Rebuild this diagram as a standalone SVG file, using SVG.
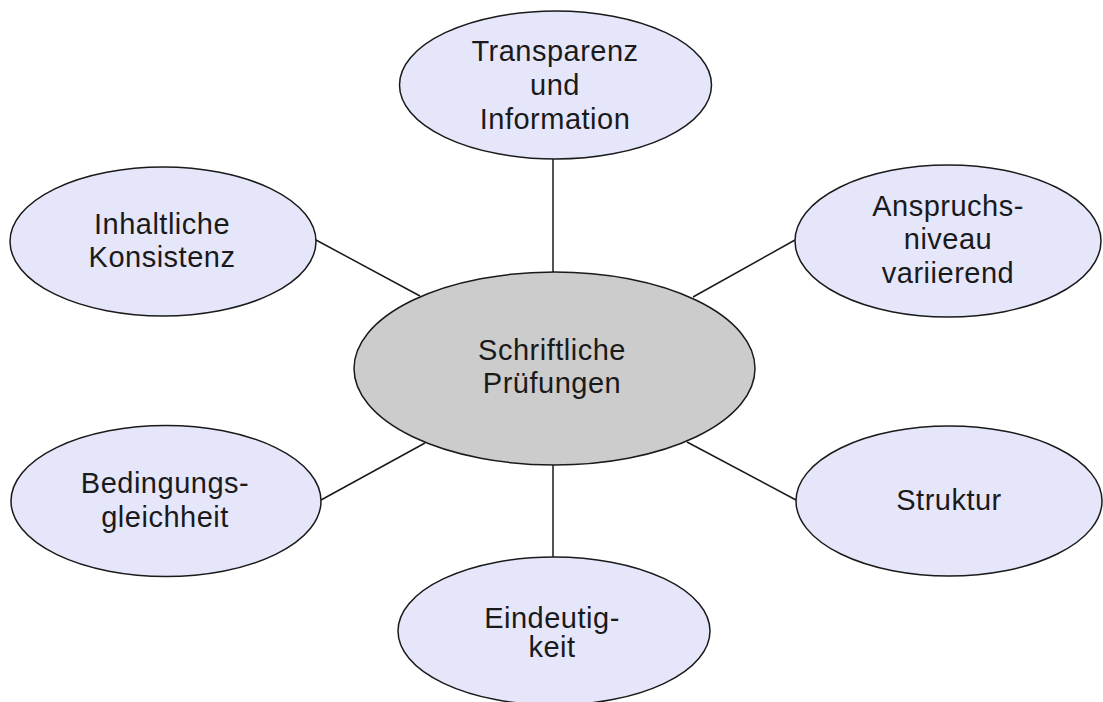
<svg xmlns="http://www.w3.org/2000/svg" width="1103" height="702" viewBox="0 0 1103 702">
<style>
.sat{fill:#e6e6fb;stroke:#1a1a1a;stroke-width:1.5}
.ctr{fill:#cccccc;stroke:#1a1a1a;stroke-width:1.5}
.con line{stroke:#1a1a1a;stroke-width:1.5}
text{font-family:"Liberation Sans",Arial,sans-serif;font-size:29px;letter-spacing:0.5px;fill:#1a1a1a;text-anchor:middle}
</style>
<rect width="1103" height="702" fill="#ffffff"/>
<g id="connectors" class="con">
<line x1="553" y1="159" x2="553" y2="272"/>
<line x1="316" y1="240" x2="420" y2="296"/>
<line x1="795" y1="240" x2="693" y2="297"/>
<line x1="321" y1="500" x2="425" y2="443"/>
<line x1="796" y1="500" x2="687" y2="442"/>
<line x1="553" y1="465" x2="553" y2="557"/>
</g>
<g id="node-center">
<ellipse class="ctr" cx="554.5" cy="368.5" rx="200.5" ry="96.5"/>
<text x="552" y="360">Schriftliche</text>
<text x="552" y="393">Prüfungen</text>
</g>
<g id="node-transparenz">
<ellipse class="sat" cx="555.5" cy="85" rx="156" ry="74"/>
<text x="555" y="61">Transparenz</text>
<text x="555" y="95">und</text>
<text x="555" y="129">Information</text>
</g>
<g id="node-konsistenz">
<ellipse class="sat" cx="163" cy="241.5" rx="153" ry="74.5"/>
<text x="162" y="234">Inhaltliche</text>
<text x="162" y="267">Konsistenz</text>
</g>
<g id="node-anspruch">
<ellipse class="sat" cx="948" cy="241" rx="153" ry="76"/>
<text x="948" y="216">Anspruchs-</text>
<text x="948" y="249">niveau</text>
<text x="948" y="283">variierend</text>
</g>
<g id="node-bedingung">
<ellipse class="sat" cx="166" cy="501" rx="155" ry="75.5"/>
<text x="165" y="493">Bedingungs-</text>
<text x="165" y="527">gleichheit</text>
</g>
<g id="node-struktur">
<ellipse class="sat" cx="949" cy="501" rx="153" ry="75"/>
<text x="949" y="510">Struktur</text>
</g>
<g id="node-eindeutig">
<ellipse class="sat" cx="554" cy="631" rx="156" ry="74"/>
<text x="552" y="628">Eindeutig-</text>
<text x="552" y="657">keit</text>
</g>
</svg>
